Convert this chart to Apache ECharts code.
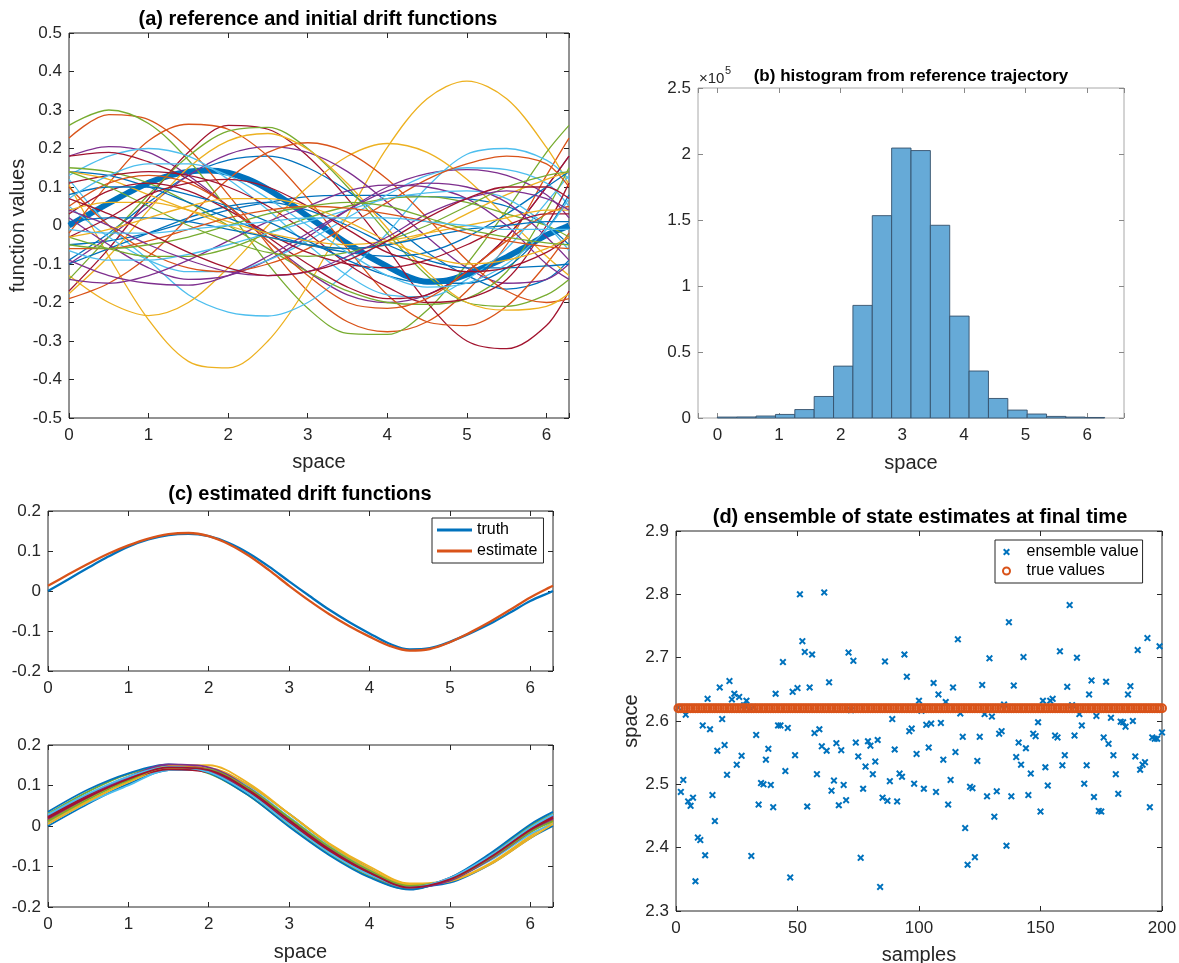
<!DOCTYPE html>
<html><head><meta charset="utf-8">
<script src="https://cdn.jsdelivr.net/npm/echarts@6/dist/echarts.min.js"></script>
<style>html,body{margin:0;padding:0;background:#fff}#c{width:1179px;height:963px}</style>
</head><body><div id="c"></div>
<script>
// ---------- data ----------
const xs = [0,0.5,1,1.5,2,2.5,3,3.5,4,4.5,5,5.5,6,6.2832];
const xsFine = [0,0.25,0.5,0.75,1,1.25,1.5,1.75,2,2.25,2.5,2.75,3,3.25,3.5,3.75,4,4.25,4.5,4.75,5,5.25,5.5,5.75,6,6.25,6.2832];
const truthDrift    = [0,0.029,0.058,0.086,0.111,0.129,0.14,0.143,0.137,0.12,0.094,0.061,0.024,-0.012,-0.047,-0.078,-0.106,-0.132,-0.146,-0.143,-0.127,-0.106,-0.082,-0.054,-0.025,-0.003,0];
const estimateDrift = [0.013,0.041,0.068,0.093,0.114,0.131,0.142,0.145,0.137,0.117,0.088,0.052,0.013,-0.024,-0.058,-0.088,-0.114,-0.137,-0.149,-0.145,-0.128,-0.104,-0.077,-0.047,-0.016,0.01,0.013];
const initialDrifts = [
 [-0.09,-0.02,0.06,0.13,0.17,0.18,0.15,0.09,0.01,-0.07,-0.13,-0.165,-0.14,-0.09],
 [0.227,0.288,0.275,0.2,0.08,-0.05,-0.17,-0.25,-0.276,-0.25,-0.17,-0.05,0.13,0.227],
 [0.106,-0.08,-0.245,-0.353,-0.37,-0.3,-0.156,0.026,0.203,0.329,0.375,0.329,0.203,0.106],
 [0.18,0.205,0.19,0.13,0.05,-0.04,-0.12,-0.18,-0.2,-0.18,-0.12,-0.03,0.1,0.18],
 [0.26,0.3,0.265,0.17,0.04,-0.1,-0.215,-0.28,-0.283,-0.22,-0.1,0.04,0.19,0.26],
 [0.12,0.0,-0.09,-0.18,-0.225,-0.235,-0.2,-0.12,-0.02,0.1,0.185,0.2,0.17,0.12],
 [-0.17,-0.06,0.07,0.19,0.26,0.25,0.18,0.07,-0.06,-0.2,-0.3,-0.32,-0.26,-0.17],
 [-0.05,-0.04,-0.02,0.01,0.04,0.06,0.075,0.078,0.078,0.075,0.07,0.05,0.0,-0.05],
 [-0.02,0.11,0.22,0.263,0.25,0.18,0.07,-0.06,-0.18,-0.25,-0.26,-0.21,-0.1,-0.02],
 [-0.13,-0.2,-0.234,-0.2,-0.11,0.0,0.1,0.18,0.213,0.19,0.12,0.02,-0.08,-0.13],
 [-0.1,-0.03,0.05,0.13,0.185,0.205,0.19,0.14,0.06,-0.03,-0.11,-0.15,-0.14,-0.1],
 [-0.14,-0.03,0.08,0.18,0.245,0.255,0.2,0.1,-0.02,-0.13,-0.2,-0.21,-0.18,-0.14],
 [0.13,0.18,0.2,0.18,0.12,0.04,-0.05,-0.13,-0.18,-0.185,-0.14,-0.06,0.06,0.13],
 [0.18,0.19,0.165,0.12,0.05,-0.03,-0.1,-0.16,-0.19,-0.18,-0.12,-0.03,0.1,0.18],
 [-0.1,-0.06,-0.02,0.02,0.05,0.06,0.04,0.0,-0.05,-0.09,-0.11,-0.11,-0.105,-0.1],
 [-0.19,-0.15,-0.08,0.02,0.12,0.19,0.215,0.19,0.12,0.02,-0.09,-0.17,-0.2,-0.19],
 [-0.177,-0.08,0.04,0.15,0.22,0.239,0.198,0.109,-0.007,-0.12,-0.2,-0.22,-0.21,-0.177],
 [0.02,-0.05,-0.11,-0.14,-0.13,-0.09,-0.03,0.04,0.1,0.135,0.145,0.13,0.08,0.02],
 [0.15,0.14,0.11,0.06,0.0,-0.06,-0.12,-0.17,-0.2,-0.205,-0.19,-0.12,0.04,0.15],
 [0.05,-0.03,-0.09,-0.12,-0.12,-0.09,-0.04,0.02,0.08,0.13,0.15,0.145,0.11,0.05],
 [0.11,0.13,0.14,0.13,0.1,0.05,-0.02,-0.1,-0.16,-0.2,-0.19,-0.14,0.0,0.11],
 [0.14,0.13,0.1,0.06,0.02,-0.02,-0.05,-0.07,-0.08,-0.07,-0.03,0.03,0.1,0.14],
 [0.1,0.0,-0.07,-0.11,-0.12,-0.1,-0.06,0.0,0.06,0.12,0.16,0.18,0.16,0.1],
 [0.14,0.12,0.08,0.04,0.0,-0.03,-0.05,-0.06,-0.05,-0.02,0.03,0.08,0.12,0.14],
 [-0.14,-0.15,-0.13,-0.09,-0.04,0.01,0.05,0.09,0.105,0.1,0.07,0.0,-0.1,-0.14],
 [-0.03,-0.06,-0.08,-0.08,-0.06,-0.02,0.02,0.05,0.07,0.075,0.06,0.03,0.0,-0.03],
 [-0.065,-0.09,-0.09,-0.075,-0.05,-0.02,0.01,0.04,0.07,0.085,0.09,0.07,0.0,-0.065],
 [0.03,0.09,0.11,0.09,0.04,-0.02,-0.07,-0.1,-0.11,-0.09,-0.05,0.0,0.03,0.03],
 [0.08,0.1,0.1,0.08,0.05,0.01,-0.04,-0.09,-0.13,-0.15,-0.15,-0.11,-0.01,0.08],
 [0.05,0.11,0.13,0.11,0.05,-0.04,-0.13,-0.2,-0.215,-0.19,-0.12,-0.04,0.03,0.05],
 [0.04,0.06,0.06,0.04,0.01,-0.02,-0.04,-0.05,-0.04,-0.02,0.0,0.02,0.04,0.04],
 [-0.09,-0.13,-0.15,-0.155,-0.13,-0.08,-0.02,0.04,0.09,0.11,0.1,0.06,-0.03,-0.09],
 [0.14,0.1,0.05,0.0,-0.04,-0.07,-0.08,-0.07,-0.04,0.0,0.05,0.1,0.13,0.14],
 [0.07,0.13,0.16,0.16,0.13,0.07,0.0,-0.07,-0.13,-0.16,-0.15,-0.1,-0.01,0.07],
 [-0.03,0.02,0.08,0.11,0.12,0.1,0.05,-0.01,-0.07,-0.1,-0.12,-0.11,-0.07,-0.03],
 [0.01,0.02,0.02,0.01,-0.01,-0.03,-0.05,-0.06,-0.05,-0.03,-0.01,0.0,0.01,0.01],
 [-0.06,-0.06,-0.04,-0.01,0.02,0.04,0.05,0.045,0.03,0.01,-0.02,-0.04,-0.055,-0.06],
 [-0.03,-0.01,0.02,0.05,0.07,0.07,0.05,0.01,-0.04,-0.08,-0.1,-0.09,-0.06,-0.03],
 [0.04,0.0,-0.05,-0.09,-0.12,-0.13,-0.12,-0.08,-0.03,0.03,0.07,0.09,0.07,0.04],
 [-0.05,-0.06,-0.05,-0.03,0.0,0.03,0.05,0.06,0.05,0.02,-0.01,-0.03,-0.045,-0.05],
 [-0.01,-0.02,-0.02,-0.01,0.0,0.01,0.02,0.02,0.02,0.01,0.0,-0.01,-0.01,-0.01],
 [0.07,0.03,-0.02,-0.07,-0.11,-0.13,-0.12,-0.09,-0.04,0.02,0.07,0.1,0.1,0.07]
];
const ensembleDrifts = [
 [0.0,0.055,0.104,0.138,0.14,0.1,0.03,-0.045,-0.105,-0.15,-0.14,-0.095,-0.03,0.0],
 [0.02,0.075,0.12,0.148,0.135,0.082,0.008,-0.062,-0.117,-0.152,-0.13,-0.075,-0.008,0.02],
 [0.01,0.062,0.108,0.142,0.142,0.1,0.03,-0.043,-0.1,-0.142,-0.135,-0.092,-0.025,0.01],
 [0.025,0.078,0.122,0.15,0.138,0.085,0.01,-0.063,-0.12,-0.155,-0.132,-0.075,-0.005,0.025],
 [0.03,0.085,0.128,0.147,0.13,0.075,0.0,-0.07,-0.125,-0.156,-0.13,-0.072,0.0,0.03],
 [0.005,0.058,0.1,0.138,0.138,0.095,0.022,-0.05,-0.108,-0.148,-0.132,-0.085,-0.02,0.005],
 [0.022,0.075,0.115,0.14,0.132,0.083,0.008,-0.062,-0.118,-0.153,-0.128,-0.073,-0.006,0.022],
 [0.035,0.09,0.13,0.152,0.132,0.075,-0.002,-0.072,-0.127,-0.157,-0.128,-0.068,0.004,0.035],
 [0.015,0.07,0.115,0.147,0.14,0.09,0.018,-0.055,-0.112,-0.15,-0.133,-0.082,-0.015,0.015],
 [0.005,0.06,0.11,0.148,0.15,0.105,0.03,-0.045,-0.105,-0.145,-0.137,-0.095,-0.03,0.005],
 [0.018,0.072,0.12,0.152,0.145,0.093,0.018,-0.056,-0.114,-0.152,-0.135,-0.082,-0.014,0.018],
 [0.012,0.066,0.113,0.145,0.14,0.092,0.02,-0.052,-0.11,-0.148,-0.132,-0.08,-0.015,0.012],
 [0.028,0.08,0.122,0.146,0.133,0.08,0.005,-0.066,-0.12,-0.152,-0.128,-0.073,-0.004,0.028],
 [0.02,0.072,0.116,0.145,0.138,0.088,0.014,-0.058,-0.115,-0.152,-0.132,-0.078,-0.01,0.02]
];
const histEdges = [0,0.3142,0.6283,0.9425,1.2566,1.5708,1.885,2.1991,2.5133,2.8274,3.1416,3.4558,3.7699,4.0841,4.3982,4.7124,5.0265,5.3407,5.6549,5.969,6.2832];
const histCounts = [700,800,1500,2700,6400,16300,39300,85300,153300,204500,202600,146000,77200,35600,14800,6000,3000,1200,700,400];
const ensembleValues = [
 2.621,2.488,2.507,2.610,2.473,2.466,2.479,2.347,2.416,2.412,
 2.593,2.388,2.635,2.587,2.483,2.442,2.553,2.653,2.603,2.562,
 2.515,2.663,2.634,2.643,2.531,2.638,2.545,2.625,2.632,2.618,
 2.387,2.622,2.578,2.468,2.502,2.500,2.539,2.556,2.499,2.464,
 2.643,2.593,2.593,2.693,2.521,2.589,2.353,2.646,2.546,2.652,
 2.800,2.726,2.709,2.465,2.653,2.705,2.581,2.516,2.587,2.560,
 2.803,2.553,2.661,2.490,2.506,2.565,2.467,2.554,2.499,2.475,
 2.708,2.617,2.695,2.566,2.544,2.384,2.493,2.528,2.568,2.561,
 2.516,2.536,2.570,2.338,2.479,2.694,2.474,2.505,2.603,2.555,
 2.473,2.517,2.512,2.705,2.670,2.584,2.588,2.501,2.548,2.632,
 2.616,2.493,2.594,2.558,2.596,2.660,2.488,2.642,2.597,2.539,
 2.630,2.468,2.507,2.653,2.551,2.729,2.612,2.575,2.431,2.373,
 2.496,2.494,2.385,2.537,2.575,2.657,2.611,2.481,2.699,2.607,
 2.449,2.489,2.580,2.584,2.626,2.403,2.756,2.481,2.656,2.543,
 2.566,2.531,2.701,2.557,2.483,2.517,2.580,2.576,2.598,2.457,
 2.632,2.527,2.498,2.632,2.635,2.577,2.574,2.710,2.530,2.546,
 2.654,2.783,2.625,2.577,2.700,2.611,2.593,2.501,2.530,2.642,
 2.664,2.480,2.608,2.458,2.457,2.574,2.662,2.564,2.605,2.546,
 2.516,2.485,2.599,2.598,2.591,2.642,2.655,2.600,2.544,2.712,
 2.523,2.531,2.535,2.731,2.464,2.574,2.572,2.572,2.718,2.582
];
const trueState = 2.62;

// ---------- styling ----------
const FONT = '"Liberation Sans", Arial, Helvetica, sans-serif';
const INK = '#262626';
const PALETTE = ['#0072BD','#D95319','#EDB120','#7E2F8E','#77AC30','#4DBEEE','#A2142F'];
const TICK_FS = 17, NAME_FS = 20, SMOOTH = 0.33;
const intFmt = v => Math.abs(v - Math.round(v)) < 1e-6 ? String(Math.round(v)) : '';

function xPair(g, o) {
  const base = {
    type:'value', gridIndex:g, min:o.min, max:o.max, interval:o.interval, splitNumber:o.splitNumber,
    axisLine:{show:false,onZero:false}, splitLine:{show:false},
    axisTick:{show:true,inside:true,length:5,lineStyle:{color:o.tickColor||INK,width:1}}
  };
  return [
    Object.assign({}, base, {position:'bottom',
      axisLabel:{show:true,color:INK,fontSize:TICK_FS,fontFamily:FONT,margin:9,formatter:o.fmt},
      name:o.name||'', nameLocation:'middle', nameGap:o.nameGap||34,
      nameTextStyle:{fontSize:NAME_FS,color:INK,fontFamily:FONT}}),
    Object.assign({}, base, {position:'top', axisLabel:{show:false}})
  ];
}
function yPair(g, o) {
  const base = {
    type:'value', gridIndex:g, min:o.min, max:o.max, interval:o.interval,
    axisLine:{show:false,onZero:false}, splitLine:{show:false},
    axisTick:{show:true,inside:true,length:5,lineStyle:{color:o.tickColor||INK,width:1}}
  };
  return [
    Object.assign({}, base, {position:'left',
      axisLabel:{show:true,color:INK,fontSize:TICK_FS,fontFamily:FONT,margin:7,formatter:o.fmt},
      name:o.name||'', nameLocation:'middle', nameGap:o.nameGap||40, nameRotate:90,
      nameTextStyle:{fontSize:NAME_FS,color:INK,fontFamily:FONT}}),
    Object.assign({}, base, {position:'right', axisLabel:{show:false}})
  ];
}
const gridBase = {show:true, borderColor:INK, borderWidth:1, containLabel:false, outerBoundsMode:'none'};
const grids = [
  Object.assign({}, gridBase, {left:69, top:33, width:500, height:385}),
  Object.assign({}, gridBase, {left:698, top:88, width:426, height:330, borderColor:'#a8a8a8'}),
  Object.assign({}, gridBase, {left:48, top:511, width:505, height:160}),
  Object.assign({}, gridBase, {left:48, top:745, width:505, height:162}),
  Object.assign({}, gridBase, {left:676, top:531, width:486, height:380})
];
const xAxes = [].concat(
  xPair(0,{min:0,max:6.2832,interval:1,fmt:intFmt,name:'space',nameGap:34}),
  xPair(1,{min:-0.31416,max:6.59734,splitNumber:7,fmt:intFmt,name:'space',nameGap:35,tickColor:'#888'}),
  xPair(2,{min:0,max:6.2832,interval:1,fmt:intFmt}),
  xPair(3,{min:0,max:6.2832,interval:1,fmt:intFmt,name:'space',nameGap:35}),
  xPair(4,{min:0,max:200,interval:50,name:'samples',nameGap:34})
);
const yAxes = [].concat(
  yPair(0,{min:-0.5,max:0.5,interval:0.1,name:'function values',nameGap:41}),
  yPair(1,{min:0,max:250000,interval:50000,fmt:v=>String(+(v/1e5).toFixed(2)),tickColor:'#888'}),
  yPair(2,{min:-0.2,max:0.2,interval:0.1}),
  yPair(3,{min:-0.2,max:0.2,interval:0.1}),
  yPair(4,{min:2.3,max:2.9,interval:0.1,name:'space',nameGap:32})
);

const toPts = arr => xs.map((x,i)=>[x,arr[i]]);
const toFine = arr => xsFine.map((x,i)=>[x,arr[i]]);
const series = [];
// (a)
series.push({type:'line',xAxisIndex:0,yAxisIndex:0,data:toFine(truthDrift),smooth:SMOOTH,symbol:'none',
  lineStyle:{width:6,color:PALETTE[0]},silent:true,z:1});
initialDrifts.forEach((c,i)=>series.push({type:'line',xAxisIndex:0,yAxisIndex:0,data:toPts(c),smooth:SMOOTH,
  symbol:'none',lineStyle:{width:1.3,color:PALETTE[i%7]},silent:true,z:2}));
// (b)
series.push({type:'custom',xAxisIndex:2,yAxisIndex:2,silent:true,
  data:histCounts.map((c,i)=>[histEdges[i],histEdges[i+1],c]),
  encode:{x:[0,1],y:2},
  renderItem:(params,api)=>{
    const p0=api.coord([api.value(0),api.value(2)]);
    const p1=api.coord([api.value(1),0]);
    return {type:'rect',shape:{x:p0[0],y:p0[1],width:p1[0]-p0[0],height:p1[1]-p0[1]},
      style:{fill:'#66AAD7',stroke:'#34506b',lineWidth:0.9}};
  }});
// (c) top
series.push({type:'line',name:'truth',xAxisIndex:4,yAxisIndex:4,data:toFine(truthDrift),smooth:SMOOTH,symbol:'none',
  lineStyle:{width:2.3,color:PALETTE[0]},itemStyle:{color:PALETTE[0]},silent:true});
series.push({type:'line',name:'estimate',xAxisIndex:4,yAxisIndex:4,data:toFine(estimateDrift),smooth:SMOOTH,symbol:'none',
  lineStyle:{width:2.3,color:PALETTE[1]},itemStyle:{color:PALETTE[1]},silent:true});
// (c) bottom
ensembleDrifts.forEach((c,i)=>series.push({type:'line',xAxisIndex:6,yAxisIndex:6,data:toPts(c),smooth:SMOOTH,
  symbol:'none',lineStyle:{width:1.8,color:PALETTE[i%7]},silent:true}));
// (d)
const XSYM = 'path://M2,0 L5,3 L8,0 L10,2 L7,5 L10,8 L8,10 L5,7 L2,10 L0,8 L3,5 L0,2 Z';
series.push({type:'scatter',name:'ensemble value',xAxisIndex:8,yAxisIndex:8,
  data:ensembleValues.map((v,i)=>[i+1,v]),symbol:XSYM,symbolSize:7,symbolKeepAspect:true,
  itemStyle:{color:PALETTE[0],opacity:1},silent:true,z:2});
series.push({type:'scatter',name:'true values',xAxisIndex:8,yAxisIndex:8,
  data:ensembleValues.map((v,i)=>[i+1,trueState]),symbol:'circle',symbolSize:8,
  itemStyle:{color:'rgba(0,0,0,0)',borderColor:PALETTE[1],borderWidth:2,opacity:1},silent:true,z:3});

const legendBase = {orient:'vertical',selectedMode:false,borderColor:INK,borderWidth:1,backgroundColor:'#fff',
  textStyle:{fontSize:16,color:'#000',fontFamily:FONT}};
const option = {
  animation:false,
  backgroundColor:'#fff',
  grid:grids, xAxis:xAxes, yAxis:yAxes, series:series,
  legend:[
    Object.assign({},legendBase,{data:['truth','estimate'],left:432,top:518,padding:[4,6,4,5],
      itemWidth:35,itemHeight:3,itemGap:5,icon:'rect'}),
    Object.assign({},legendBase,{data:['ensemble value','true values'],left:995,top:540,padding:[4,4,4,7],
      itemWidth:30,itemHeight:7,itemGap:3})
  ],
  graphic:[
    {type:'text',x:318,y:19,style:{text:'(a) reference and initial drift functions',font:'bold 20px '+FONT,fill:'#000',textAlign:'center',textVerticalAlign:'middle'}},
    {type:'text',x:911,y:76,style:{text:'(b) histogram from reference trajectory',font:'bold 17px '+FONT,fill:'#000',textAlign:'center',textVerticalAlign:'middle'}},
    {type:'text',x:699,y:79,style:{text:'×10',font:'15px '+FONT,fill:INK,textAlign:'left',textVerticalAlign:'middle'}},
    {type:'text',x:725,y:71,style:{text:'5',font:'11px '+FONT,fill:INK,textAlign:'left',textVerticalAlign:'middle'}},
    {type:'text',x:300,y:494,style:{text:'(c) estimated drift functions',font:'bold 20px '+FONT,fill:'#000',textAlign:'center',textVerticalAlign:'middle'}},
    {type:'text',x:920,y:517,style:{text:'(d) ensemble of state estimates at final time',font:'bold 20px '+FONT,fill:'#000',textAlign:'center',textVerticalAlign:'middle'}}
  ]
};
const chart = echarts.init(document.getElementById('c'), null, {renderer:'canvas'});
chart.setOption(option);
</script></body></html>
